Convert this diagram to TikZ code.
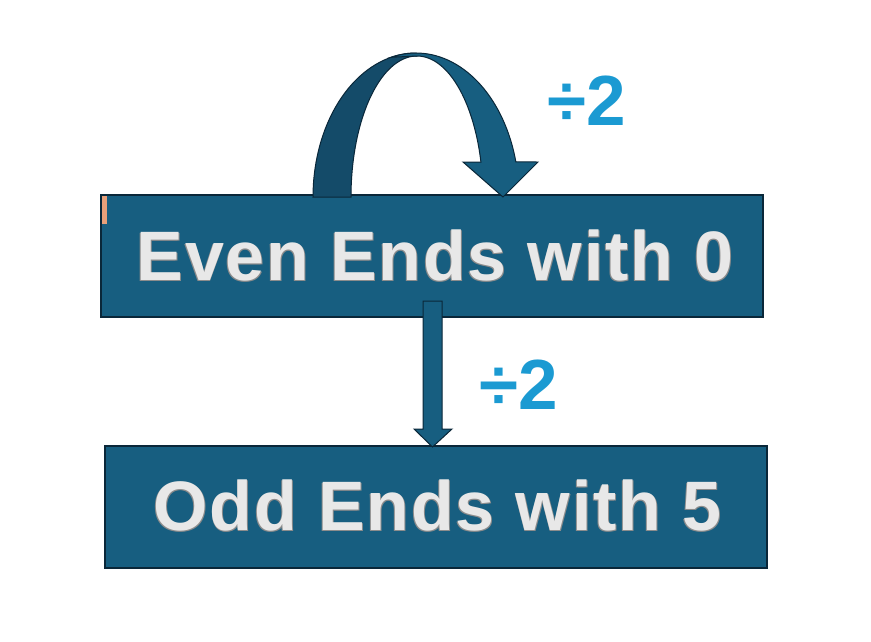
\documentclass[tikz,border=0pt]{standalone}
\usepackage{fontspec}
\newfontfamily\boxfont{Liberation Sans}[LetterSpace=2.5]
\newfontfamily\labfont{Liberation Sans}
\definecolor{boxfill}{RGB}{23,94,128}
\definecolor{boxline}{RGB}{10,39,57}
\definecolor{darkarc}{RGB}{20,75,105}
\definecolor{labblue}{RGB}{27,154,210}
\definecolor{txtgray}{RGB}{232,232,232}
\definecolor{shgray}{RGB}{140,140,140}
\definecolor{orangemark}{RGB}{232,160,122}
\newcommand\embtext[1]{\rlap{\kern-0.9pt\raisebox{-1.3pt}{\color{shgray}#1}}\rlap{\kern0.9pt\raisebox{-1.3pt}{\color{shgray}#1}}{\color{txtgray}#1}}
\tikzset{
  boxnode/.style={draw=boxline, line width=1.4pt, fill=boxfill, inner sep=0pt},
  boxtext/.style={inner sep=0pt, anchor=center, font=\boxfont\bfseries\fontsize{70}{70}\selectfont},
  arrowshape/.style={draw=boxline, line width=1pt, fill=boxfill, line join=miter},
  lab/.style={text=labblue, inner sep=0pt, font=\labfont\bfseries\fontsize{71}{71}\selectfont}
}
\begin{document}
\begin{tikzpicture}[x=1pt,y=-1pt]
\useasboundingbox (0,0) rectangle (871,642);
\fill[white] (0,0) rectangle (871,642);
% boxes
\node[boxnode, minimum width=662pt, minimum height=122pt] (even) at (432,256) {};
\node[boxnode, minimum width=662pt, minimum height=122pt] (odd) at (436,507) {};
\node[boxtext] (eventxt) at (435,256) {\embtext{Even Ends with 0}};
\node[boxtext] (oddtxt) at (437.5,506) {\embtext{Odd Ends with 5}};
\fill[orangemark] (102,195.5) rectangle (107,224);
% curved arrow: dark back part
\path[arrowshape, fill=darkarc]
  plot[domain=180:90, samples=40] ({416+103*cos(\x)},{197-144*sin(\x)})
  -- (417,56)
  -- plot[domain=90:180, samples=40] ({417+66*cos(\x)},{197-141*sin(\x)})
  -- cycle;
% curved arrow: front part with head
\path[arrowshape]
  plot[domain=104:14.07, samples=40] ({416+103*cos(\x)},{197-144*sin(\x)})
  -- (538,162) -- (503,197) -- (463,162) -- (480.9,162)
  -- plot[domain=14.37:90, samples=40] ({417+66*cos(\x)},{197-141*sin(\x)})
  -- cycle;
% straight arrow
\path[arrowshape]
  (423,301) -- (442,301) -- (442,429) -- (452,429) -- (432.5,447) -- (414,429) -- (423,429) -- cycle;
% labels
\node[lab] (lab1) at (587,101) {÷2};
\node[lab] (lab2) at (519,385) {÷2};
\end{tikzpicture}
\end{document}
